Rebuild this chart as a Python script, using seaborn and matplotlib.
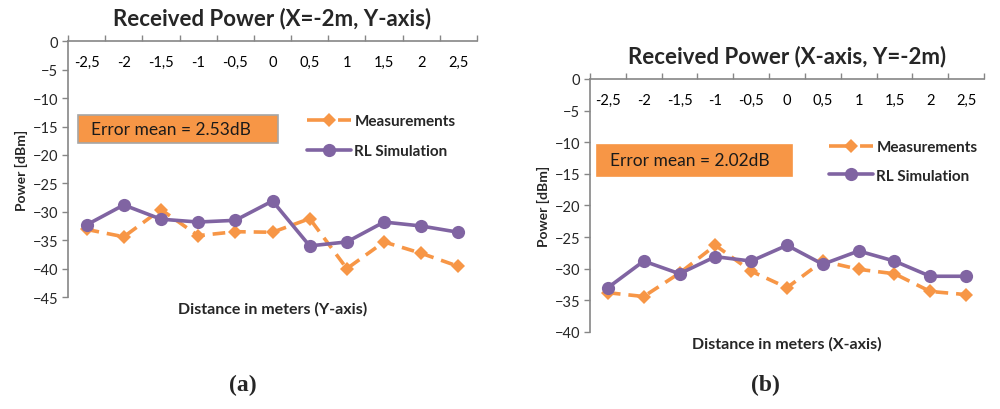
import numpy as np
import pandas as pd
import matplotlib
matplotlib.use("Agg")
import matplotlib.pyplot as plt
from matplotlib.lines import Line2D
from matplotlib.ticker import FixedLocator
import seaborn as sns

# ---------------- data ----------------
distances = [-2.5, -2.0, -1.5, -1.0, -0.5, 0.0, 0.5, 1.0, 1.5, 2.0, 2.5]
tick_labels = ["-2,5", "-2", "-1,5", "-1", "-0,5", "0", "0,5", "1", "1,5", "2", "2,5"]

a_measurements = [-33.1, -34.4, -29.6, -34.2, -33.5, -33.6, -31.2, -40.0, -35.3, -37.3, -39.6]
a_simulation = [-32.3, -28.8, -31.3, -31.8, -31.5, -28.1, -36.0, -35.3, -31.8, -32.5, -33.6]

b_measurements = [-33.8, -34.4, -30.7, -26.3, -30.4, -33.0, -28.8, -30.1, -30.8, -33.6, -34.1]
b_simulation = [-33.0, -28.8, -30.8, -28.1, -28.8, -26.3, -29.3, -27.2, -28.8, -31.2, -31.2]

series_names = ["Measurements", "RL Simulation"]
titles = ["Received Power (X=-2m, Y-axis)", "Received Power (X-axis, Y=-2m)"]
xlabels = ["Distance in meters (Y-axis)", "Distance in meters (X-axis)"]
error_texts = ["Error mean = 2.53dB", "Error mean = 2.02dB"]
captions = ["(a)", "(b)"]
y_limits = [(-45, 0), (-40, 0)]

ORANGE = "#F79646"
PURPLE = "#8064A2"
AXIS_GRAY = "#868686"

sns.set_theme(style="white")
plt.rcParams["font.family"] = ["Lato", "DejaVu Sans"]

W, H = 1000, 410
fig = plt.figure(figsize=(10, 4.1), dpi=100)

axes_rects = [
    [0.068, 0.273, 0.409, 0.624],
    [0.590, 0.188, 0.394, 0.617],
]
box_pos = [  # (x0, y0, x1, y1) in figure px coords from top
    (78, 116, 278, 144),
    (597, 146, 792, 177),
]
legend_anchor_px = [(301, 109), (823, 135)]
legend_spacing = [1.05, 0.95]
caption_x = [243, 765]

datasets = [(a_measurements, a_simulation), (b_measurements, b_simulation)]

for i, (meas, sim) in enumerate(datasets):
    ax = fig.add_axes(axes_rects[i])
    df = pd.DataFrame({
        "Distance": distances * 2,
        "Power": list(meas) + list(sim),
        "Series": [series_names[0]] * len(distances) + [series_names[1]] * len(distances),
    })
    sns.lineplot(
        data=df, x="Distance", y="Power", hue="Series", style="Series",
        hue_order=series_names, style_order=series_names,
        palette={series_names[0]: ORANGE, series_names[1]: PURPLE},
        markers={series_names[0]: "D", series_names[1]: "o"},
        dashes={series_names[0]: (3.5, 2.2), series_names[1]: ""},
        linewidth=2.6, markersize=8, markeredgewidth=0,
        legend=False, ax=ax, sort=False,
    )
    for ln in ax.lines:
        if ln.get_marker() == "D":
            ln.set_markersize(7)
        else:
            ln.set_markersize(9.5)

    ymin, ymax = y_limits[i]
    ax.set_ylim(ymin, ymax)
    ax.set_yticks(np.arange(ymin, ymax + 1, 5))
    ax.set_xlim(-2.75, 2.75)

    ax.xaxis.tick_top()
    ax.set_xticks(distances)
    ax.set_xticklabels(tick_labels)
    ax.xaxis.set_minor_locator(FixedLocator(np.arange(-2.75, 2.76, 0.5)))
    ax.tick_params(axis="x", which="major", length=0, pad=-20, labelsize=10.5,
                   labelcolor="black", top=True, bottom=False)
    ax.tick_params(axis="x", which="minor", length=4, width=1, color=AXIS_GRAY,
                   direction="out", top=True, bottom=False)
    ax.tick_params(axis="y", which="major", length=4, width=1, color=AXIS_GRAY,
                   direction="out", left=True, labelsize=10.5, pad=3)

    for s in ["bottom", "right"]:
        ax.spines[s].set_visible(False)
    for s in ["top", "left"]:
        ax.spines[s].set_visible(True)
        ax.spines[s].set_color(AXIS_GRAY)
        ax.spines[s].set_linewidth(1.2)

    ax.xaxis.set_label_position("bottom")
    ax.set_xlabel(xlabels[i], fontsize=11.5, fontweight="bold", labelpad=3)
    ax.set_ylabel("Power [dBm]", fontsize=10, fontweight="bold", labelpad=3)
    ax.set_title(titles[i], fontsize=16, fontweight="bold", pad=12)

    handles = [
        Line2D([], [], color=ORANGE, linestyle=(0, (7.0, 1.6)), linewidth=2.6,
               marker="D", markersize=7, markeredgewidth=0),
        Line2D([], [], color=PURPLE, linestyle="-", linewidth=2.6,
               marker="o", markersize=9.5, markeredgewidth=0),
    ]
    lx, ly = legend_anchor_px[i]
    ax.legend(handles, series_names, loc="upper left",
              bbox_to_anchor=(lx / W, 1 - ly / H), bbox_transform=fig.transFigure,
              frameon=False, prop={"size": 11, "weight": "bold"},
              handlelength=2.9, handletextpad=0.2,
              labelspacing=legend_spacing[i], borderaxespad=0)

    x0, y0, x1, y1 = box_pos[i]
    rect = plt.Rectangle((x0 / W, 1 - y1 / H), (x1 - x0) / W, (y1 - y0) / H,
                         transform=fig.transFigure, facecolor=ORANGE,
                         edgecolor="#A6A6A6" if i == 0 else ORANGE, linewidth=1.2)
    fig.patches.append(rect)
    fig.text((x0 + 13) / W, 1 - (y0 + y1) / 2 / H, error_texts[i], fontsize=12.5,
             va="center", ha="left", color="#1a1a1a")

    fig.text(caption_x[i] / W, 1 - 385 / H, captions[i], fontsize=17,
             fontweight="bold", family=["Liberation Serif", "DejaVu Serif"],
             ha="center", va="center")

fig.savefig("out.png", dpi=100)
